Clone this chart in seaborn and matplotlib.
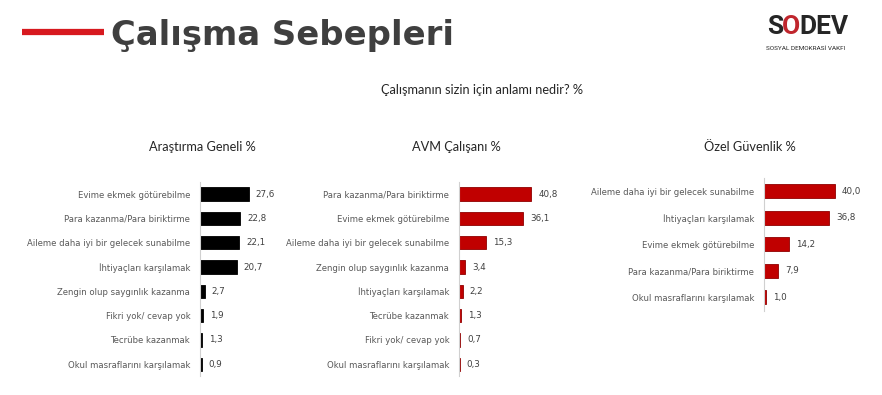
import seaborn as sns
import matplotlib.pyplot as plt

# values
genel_labels = ['Evime ekmek götürebilme', 'Para kazanma/Para biriktirme',
                'Aileme daha iyi bir gelecek sunabilme', 'İhtiyaçları karşılamak',
                'Zengin olup saygınlık kazanma', 'Fikri yok/ cevap yok',
                'Tecrübe kazanmak', 'Okul masraflarını karşılamak']
genel_vals = [27.6, 22.8, 22.1, 20.7, 2.7, 1.9, 1.3, 0.9]

avm_labels = ['Para kazanma/Para biriktirme', 'Evime ekmek götürebilme',
              'Aileme daha iyi bir gelecek sunabilme', 'Zengin olup saygınlık kazanma',
              'İhtiyaçları karşılamak', 'Tecrübe kazanmak',
              'Fikri yok/ cevap yok', 'Okul masraflarını karşılamak']
avm_vals = [40.8, 36.1, 15.3, 3.4, 2.2, 1.3, 0.7, 0.3]

guvenlik_labels = ['Aileme daha iyi bir gelecek sunabilme', 'İhtiyaçları karşılamak',
                   'Evime ekmek götürebilme', 'Para kazanma/Para biriktirme',
                   'Okul masraflarını karşılamak']
guvenlik_vals = [40.0, 36.8, 14.2, 7.9, 1.0]

panel_titles = ['Araştırma Geneli %', 'AVM Çalışanı %', 'Özel Güvenlik %']

sns.set_style('white')
plt.rcParams['font.family'] = ['DejaVu Sans']

W, H = 882, 395
fig = plt.figure(figsize=(W / 100, H / 100), dpi=100)

XMAX = 50
PX_PER_UNIT = 1.77


def panel(x0, top, row_h, labels, vals, color, edge, bar_w):
    n = len(labels)
    h = n * row_h
    ax = fig.add_axes([x0 / W, 1 - (top + h) / H, XMAX * PX_PER_UNIT / W, h / H])
    sns.barplot(x=vals, y=labels, ax=ax, color=color, edgecolor=edge,
                linewidth=0.6, width=bar_w, orient='h', saturation=1)
    ax.set_xlim(0, XMAX)
    ax.set_xlabel('')
    ax.set_ylabel('')
    ax.set_xticks([])
    for s in ['top', 'right', 'bottom']:
        ax.spines[s].set_visible(False)
    ax.spines['left'].set_color('#d0d0d0')
    ax.spines['left'].set_linewidth(0.8)
    ax.tick_params(axis='y', length=0, pad=7, labelsize=6.1, labelcolor='#595959')
    ax.set_facecolor('none')
    ax.bar_label(ax.containers[0],
                 labels=[f'{v:.1f}'.replace('.', ',') for v in vals],
                 padding=5, fontsize=6.3, color='#404040')
    return ax


panel(200, 182, 24.3, genel_labels, genel_vals, '#000000', '#000000', 0.55)
panel(459, 182, 24.3, avm_labels, avm_vals, '#c00000', '#8f0000', 0.55)
panel(764, 178, 26.5, guvenlik_labels, guvenlik_vals, '#c00000', '#8f0000', 0.53)

# header
fig.add_artist(plt.Line2D([22 / W, 104 / W], [1 - 32 / H, 1 - 32 / H],
                          color='#d7191f', linewidth=4.5, solid_capstyle='butt'))
fig.text(111 / W, 1 - 35 / H, 'Çalışma Sebepleri', fontsize=24.4, color='#3f3f3f',
         ha='left', va='center', fontweight='bold')

# logo as text
logo_font = ['Roboto', 'DejaVu Sans']
fig.text(783 / W, 1 - 27 / H, 'S', fontsize=19, color='#262626', ha='right',
         va='center', family=logo_font, fontweight='bold')
fig.text(791 / W, 1 - 27 / H, 'O', fontsize=19, color='#c0262d', ha='center',
         va='center', family=logo_font, fontweight='bold')
fig.text(799 / W, 1 - 27 / H, 'DEV', fontsize=19, color='#262626', ha='left',
         va='center', family=logo_font, fontweight='bold')
fig.text(806 / W, 1 - 48 / H, 'SOSYAL DEMOKRASİ VAKFI', fontsize=4.6, color='#262626',
         ha='center', va='center', family=logo_font)

fig.text(482 / W, 1 - 90 / H, 'Çalışmanın sizin için anlamı nedir? %', fontsize=9.2,
         color='#262626', ha='center', va='center', family=['Lato', 'DejaVu Sans'])
for cx, t in zip([202, 456, 750], panel_titles):
    fig.text(cx / W, 1 - 147 / H, t, fontsize=9.2, color='#262626', ha='center',
             va='center', family=['Lato', 'DejaVu Sans'])

fig.savefig('out.png', dpi=100)
